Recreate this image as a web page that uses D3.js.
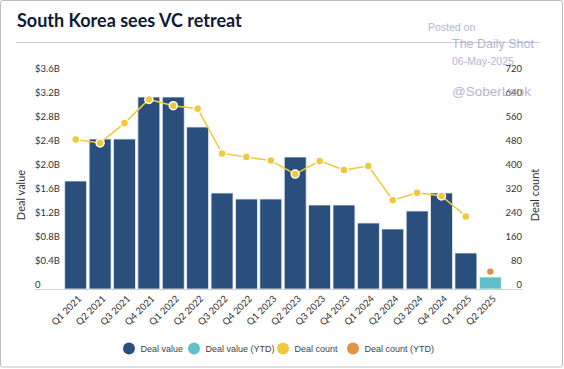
<!DOCTYPE html>
<html>
<head>
<meta charset="utf-8">
<script src="https://cdn.jsdelivr.net/npm/d3@7"></script>
<style>
  html, body { margin: 0; padding: 0; background: #fff; }
  svg { display: block; }
</style>
</head>
<body>
<svg id="chart" width="564" height="369"></svg>
<script>
const categories = ["Q1 2021","Q2 2021","Q3 2021","Q4 2021","Q1 2022","Q2 2022","Q3 2022","Q4 2022","Q1 2023","Q2 2023","Q3 2023","Q4 2023","Q1 2024","Q2 2024","Q3 2024","Q4 2024","Q1 2025","Q2 2025"];
const dealValue = [1.8,2.5,2.5,3.2,3.2,2.7,1.6,1.5,1.5,2.2,1.4,1.4,1.1,1.0,1.3,1.6,0.6,null];
const dealValueYTD = [null,null,null,null,null,null,null,null,null,null,null,null,null,null,null,null,null,0.2];
const dealCount = [498,487,553,632,611,601,452,440,428,383,427,397,410,296,321,310,242,null];
const dealCountYTD = [null,null,null,null,null,null,null,null,null,null,null,null,null,null,null,null,null,58];
const leftTicks = [0,0.4,0.8,1.2,1.6,2.0,2.4,2.8,3.2,3.6];
const leftTickLabels = ["0","$0.4B","$0.8B","$1.2B","$1.6B","$2.0B","$2.4B","$2.8B","$3.2B","$3.6B"];
const rightTicks = [0,80,160,240,320,400,480,560,640,720];
const legendLabels = ["Deal value","Deal value (YTD)","Deal count","Deal count (YTD)"];

const C = { navy:"#2b4f7c", teal:"#62bfc9", yellow:"#f0c93a", orange:"#e0914a" };
const svg = d3.select("#chart");
const tickFont = "Lato, 'Open Sans', sans-serif";

// frame
svg.append("rect").attr("x",0.5).attr("y",0.5).attr("width",562).attr("height",366.5)
  .attr("fill","#fff").attr("stroke","#bdbdbd").attr("stroke-width",1).attr("rx",2);

// title
svg.append("text").attr("x",17).attr("y",27).text("South Korea sees VC retreat")
  .attr("font-family","Lato, 'Open Sans', sans-serif").attr("font-weight",700)
  .attr("font-size",18).attr("fill","#0f1b33");
svg.append("line").attr("x1",16).attr("x2",540).attr("y1",42.5).attr("y2",42.5)
  .attr("stroke","#cccccc").attr("stroke-width",1);

const x = d3.scaleBand().domain(categories).range([63.5,502.5]).paddingInner(0.1).paddingOuter(0.05);
const y = d3.scaleLinear().domain([0,3.6]).range([289,73]);
const y2 = d3.scaleLinear().domain([0,720]).range([289,73]);

// left axis labels
const la = svg.append("g").attr("font-family",tickFont).attr("font-size",9.5).attr("fill","#333");
la.selectAll("text").data(leftTicks).join("text")
  .attr("x",35).attr("y",d=>y(d)-1.5).text((d,i)=>leftTickLabels[i]);
const ra = svg.append("g").attr("font-family",tickFont).attr("font-size",9.5).attr("fill","#333");
ra.selectAll("text").data(rightTicks).join("text")
  .attr("x",522).attr("y",d=>y2(d)-1.5).attr("text-anchor","end").text(d=>d);

// axis titles
svg.append("text").attr("transform","translate(25,195) rotate(-90)").attr("text-anchor","middle")
  .attr("font-family",tickFont).attr("font-size",11).attr("fill","#333").text("Deal value");
svg.append("text").attr("transform","translate(539,195) rotate(-90)").attr("text-anchor","middle")
  .attr("font-family",tickFont).attr("font-size",11).attr("fill","#333").text("Deal count");

// bars
svg.append("g").selectAll("rect").data(categories.map((c,i)=>({c,v:dealValue[i]})).filter(d=>d.v!=null)).join("rect")
  .attr("x",d=>x(d.c)).attr("width",x.bandwidth()).attr("y",d=>y(d.v)).attr("height",d=>y(0)-y(d.v))
  .attr("fill",C.navy).attr("stroke","#e8eef5").attr("stroke-width",0.8);
svg.append("g").selectAll("rect").data(categories.map((c,i)=>({c,v:dealValueYTD[i]})).filter(d=>d.v!=null)).join("rect")
  .attr("x",d=>x(d.c)).attr("width",x.bandwidth()).attr("y",d=>y(d.v)).attr("height",d=>y(0)-y(d.v))
  .attr("fill",C.teal).attr("stroke","#e8f5f7").attr("stroke-width",0.8);

// bottom axis line
svg.append("line").attr("x1",35).attr("x2",522).attr("y1",289.5).attr("y2",289.5)
  .attr("stroke","#d0d0d0").attr("stroke-width",1);

// x labels
svg.append("g").attr("font-family",tickFont).attr("font-size",9.5).attr("fill","#333")
  .selectAll("text").data(categories).join("text")
  .attr("transform",d=>`translate(${x(d)+x.bandwidth()/2+4},${297}) rotate(-45)`)
  .attr("text-anchor","end").attr("dy","0.35em").text(d=>d);

// line
const pts = categories.map((c,i)=>({c,v:dealCount[i]})).filter(d=>d.v!=null);
svg.append("path").datum(pts)
  .attr("d",d3.line().x(d=>x(d.c)+x.bandwidth()/2).y(d=>y2(d.v)))
  .attr("fill","none").attr("stroke",C.yellow).attr("stroke-width",1.5);
svg.append("g").selectAll("circle").data(pts).join("circle")
  .attr("cx",d=>x(d.c)+x.bandwidth()/2).attr("cy",d=>y2(d.v)).attr("r",4)
  .attr("fill",C.yellow).attr("stroke","#fff").attr("stroke-width",1.5);
const ytdPts = categories.map((c,i)=>({c,v:dealCountYTD[i]})).filter(d=>d.v!=null);
svg.append("g").selectAll("circle").data(ytdPts).join("circle")
  .attr("cx",d=>x(d.c)+x.bandwidth()/2).attr("cy",d=>y2(d.v)).attr("r",3.2)
  .attr("fill",C.orange);

// legend
const legendColors = [C.navy,C.teal,C.yellow,C.orange];
const legendX = [129,194,283,353];
const lg = svg.append("g").attr("font-family","'Liberation Sans', Arial, sans-serif").attr("font-size",9).attr("fill","#444");
legendLabels.forEach((l,i)=>{
  lg.append("circle").attr("cx",legendX[i]).attr("cy",348.5).attr("r",6).attr("fill",legendColors[i]);
  lg.append("text").attr("x",legendX[i]+11.5).attr("y",351.5).text(l);
});

// watermark
const wm = svg.append("g").attr("font-family","'Liberation Sans', Arial, sans-serif").attr("fill","#a9a9cf").attr("opacity",0.85);
wm.append("text").attr("x",428).attr("y",31).attr("font-size",10.5).text("Posted on");
wm.append("text").attr("x",452).attr("y",47.5).attr("font-size",12.5).text("The Daily Shot");
wm.append("text").attr("x",452).attr("y",64.5).attr("font-size",10.5).text("06-May-2025");
wm.append("text").attr("x",452).attr("y",96).attr("font-size",13.5).text("@SoberLook");
</script>
</body>
</html>
